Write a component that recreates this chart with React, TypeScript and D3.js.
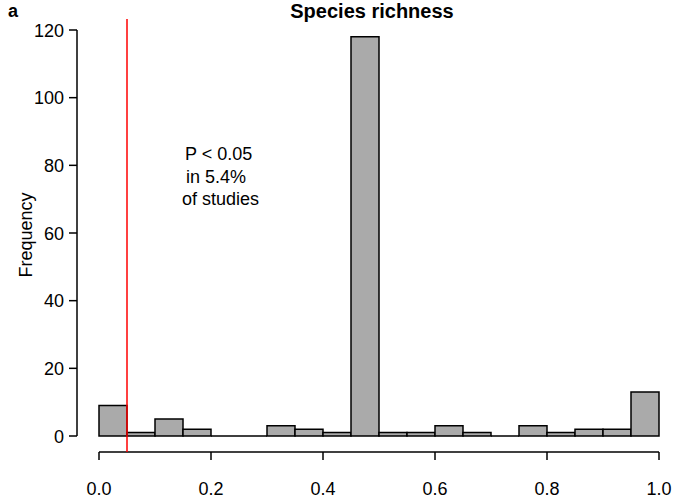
import React from "react";
import * as d3 from "d3";

const binStarts = [0, 0.05, 0.1, 0.15, 0.2, 0.25, 0.3, 0.35, 0.4, 0.45, 0.5, 0.55, 0.6, 0.65, 0.7, 0.75, 0.8, 0.85, 0.9, 0.95];
const counts = [9, 1, 5, 2, 0, 0, 3, 2, 1, 118, 1, 1, 3, 1, 0, 3, 1, 2, 2, 13];
const binWidth = 0.05;
const xTicks = [0, 0.2, 0.4, 0.6, 0.8, 1.0];
const yTicks = [0, 20, 40, 60, 80, 100, 120];
const threshold = 0.05;
const noteLines = ["P < 0.05", "in 5.4%", "of studies"];
const noteX = [185, 186, 182];

export default function App() {
  const W = 674, H = 502;
  const x = d3.scaleLinear().domain([0, 1]).range([99, 659]);
  const y = d3.scaleLinear().domain([0, 120]).range([436, 30]);
  const font = "Arial, 'Liberation Sans', sans-serif";
  const axisY = 452;
  const axisX = 77;
  return (
    <svg width={W} height={H} style={{ position: "absolute", left: 0, top: 0 }} fontFamily={font}>
      <rect width={W} height={H} fill="#fff" />
      <text x={8} y={17} fontSize={18} fontWeight="bold">a</text>
      <text x={372} y={18} fontSize={20} fontWeight="bold" textAnchor="middle">Species richness</text>
      {binStarts.map((b, i) => {
        const x0 = x(b), x1 = x(b + binWidth), y0 = y(0), y1 = y(counts[i]);
        const p = d3.path();
        p.moveTo(x0, y0); p.lineTo(x0, y1); p.lineTo(x1, y1); p.lineTo(x1, y0); p.closePath();
        return <path key={i} d={p.toString()} fill="#aaaaaa" stroke="#000" strokeWidth={1.5} strokeLinejoin="miter" />;
      })}
      {/* x axis */}
      <line x1={x(0)} x2={x(1)} y1={axisY} y2={axisY} stroke="#000" strokeWidth={1.5} />
      {xTicks.map((t) => (
        <g key={t}>
          <line x1={x(t)} x2={x(t)} y1={axisY} y2={axisY + 8} stroke="#000" strokeWidth={1.5} />
          <text x={x(t)} y={495} fontSize={18} textAnchor="middle">{t.toFixed(1)}</text>
        </g>
      ))}
      {/* y axis */}
      <line x1={axisX} x2={axisX} y1={y(0)} y2={y(120)} stroke="#000" strokeWidth={1.5} />
      {yTicks.map((t) => (
        <g key={t}>
          <line x1={axisX} x2={axisX - 8} y1={y(t)} y2={y(t)} stroke="#000" strokeWidth={1.5} />
          <text x={64} y={y(t) + 6.5} fontSize={18} textAnchor="end">{t}</text>
        </g>
      ))}
      <text transform={`translate(32,${235}) rotate(-90)`} fontSize={18} textAnchor="middle">Frequency</text>
      <line x1={x(threshold)} x2={x(threshold)} y1={19} y2={axisY} stroke="#ff0000" strokeWidth={1.5} />
      {noteLines.map((s, i) => (
        <text key={i} x={noteX[i]} y={160 + i * 22.5} fontSize={18}>{s}</text>
      ))}
    </svg>
  );
}
